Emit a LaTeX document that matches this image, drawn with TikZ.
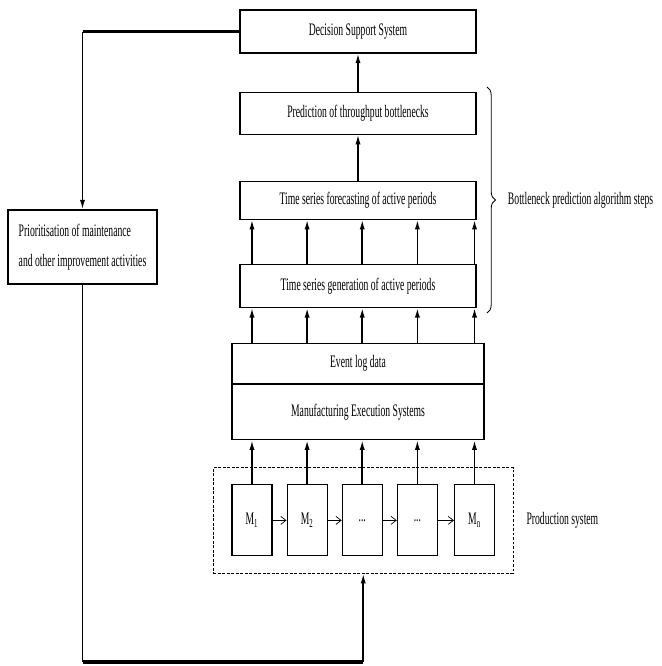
\documentclass[tikz,border=0pt]{standalone}
\usepackage{fontspec}
\setmainfont{Liberation Serif}[FakeStretch=0.55]
\usepackage{tikz}
\usetikzlibrary{arrows.meta,positioning,fit,decorations.pathreplacing}

\begin{document}
\begin{tikzpicture}[x=0.025cm, y=-0.025cm, font=\fontsize{12.5}{14}\selectfont]
        % Define styles
        \tikzstyle{stage} = [rectangle, draw, line width=0.8pt, minimum width=5.9cm, text centered]
        \tikzstyle{mesbox} = [rectangle, draw, line width=0.8pt, minimum width=6.3cm, text centered]
        \tikzstyle{machine} = [rectangle, draw, line width=0.8pt, minimum width=1cm, minimum height=1.775cm]
        \tikzstyle{arrow} = [line width=1.1pt, -{Latex[length=2.4mm,width=1.3mm]}]
        \tikzstyle{flow} = [line width=0.5pt, -{Straight Barb[length=1.3mm,width=2mm]}]
        \tikzstyle{loop} = [line width=2.2pt]

        \useasboundingbox (0,0) rectangle (662,666);

        % Algorithm steps
        \node (dss) [stage, minimum height=1.075cm] at (358,31.5) {Decision Support System};
        \node (pred) [stage, minimum height=1.05cm, below=0.95cm of dss] {Prediction of throughput bottlenecks};
        \node (fore) [stage, minimum height=0.95cm, below=1.15cm of pred] {Time series forecasting of active periods};
        \node (gen) [stage, minimum height=1.075cm, below=1.1cm of fore] {Time series generation of active periods};

        % MES
        \node (evt) [mesbox, minimum height=1cm, below=0.875cm of gen] {Event log data};
        \node (mes) [mesbox, minimum height=1.375cm, below=0pt of evt] {Manufacturing Execution Systems};

        % Machines
        \node (m1) [machine, below=1.1cm of mes.south west, anchor=north west] {M\textsubscript{1}};
        \node (m2) [machine, right=0.35cm of m1] {M\textsubscript{2}};
        \node (mdots1) [machine, right=0.35cm of m2] {...};
        \node (mdots2) [machine, right=0.35cm of mdots1] {...};
        \node (mn) [machine, right=0.4cm of mdots2] {M\textsubscript{n}};
        \node (ps) [draw, line width=0.7pt, dash pattern=on 2pt off 1.2pt, inner xsep=0.45cm, inner ysep=0.42cm, fit=(m1)(mn)] {};
        \node (pslabel) [right=0.2cm of ps] {Production system};

        % Prioritisation
        \node (prio) [draw, line width=0.8pt, align=left, minimum width=3.725cm, minimum height=1.85cm] at (82.5,247)
            {Prioritisation of maintenance\\[7pt]and other improvement activities};

        % Brace
        \coordinate (btop) at (487,87);
        \coordinate (bbot) at (487,313);
        \draw[decorate, decoration={brace, amplitude=6pt}, line width=0.6pt] (btop) -- (bbot);
        \node (steps) [anchor=west] at (503,200) {Bottleneck prediction algorithm steps};

        % Flow upwards
        \draw[arrow] (pred.north) -- (dss.south);
        \draw[arrow] (fore.north) -- (pred.south);
        \foreach \m in {m1,m2,mdots1,mdots2,mn} {
            \draw[arrow] (\m.north) -- (\m.north |- mes.south);
            \draw[arrow] (\m.north |- evt.north) -- (\m.north |- gen.south);
            \draw[arrow] (\m.north |- gen.north) -- (\m.north |- fore.south);
        }
        \draw[flow] (m1) -- (m2);
        \draw[flow] (m2) -- (mdots1);
        \draw[flow] (mdots1) -- (mdots2);
        \draw[flow] (mdots2) -- (mn);

        % Feedback loop
        \coordinate (ctop) at (prio.north |- dss.west);
        \coordinate (cbl) at (82.5,662);
        \coordinate (cbr) at (ps.south |- cbl);
        \draw[loop] (dss.west) -- (ctop);
        \draw[arrow] (ctop) -- (prio.north);
        \draw[line width=1.1pt] (prio.south) -- (cbl);
        \draw[loop] (cbl) -- (cbr);
        \draw[arrow] (cbr) -- (ps.south);
\end{tikzpicture}
\end{document}
